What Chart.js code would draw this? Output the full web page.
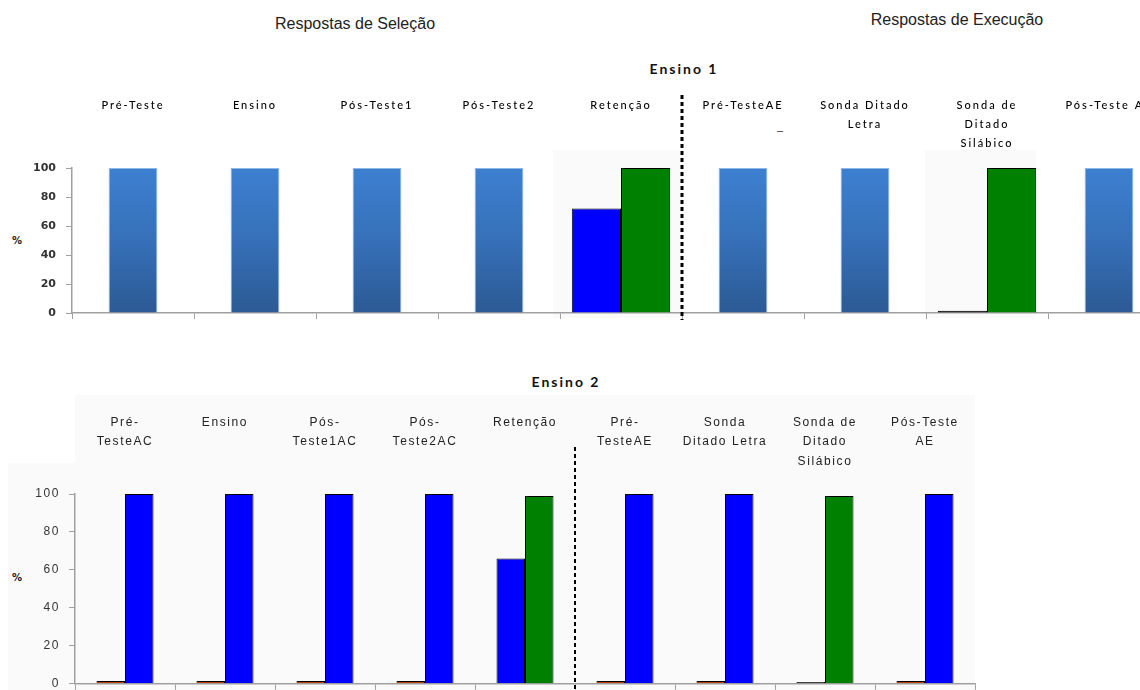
<!DOCTYPE html>
<html>
<head>
<meta charset="utf-8">
<script src="https://cdn.jsdelivr.net/npm/chart.js@4.4.1/dist/chart.umd.min.js"></script>
<style>
  html, body { margin: 0; padding: 0; background: #fff; width: 1140px; height: 690px; overflow: hidden; position: relative; }
  .txt { position: absolute; white-space: nowrap; color: #222; }
  .head { font: 16px "Liberation Sans", Arial, sans-serif; width: 260px; text-align: center; line-height: 18px; }
  .phase { font: bold 14px Lato, "Open Sans", sans-serif; letter-spacing: 2px; width: 200px; text-align: center; line-height: 16px; color: #111; }
  .pct { font: bold 10px "DejaVu Sans", sans-serif; color: #222; line-height: 12px; }
  .panel { position: absolute; background: #fafafa; }
  canvas { position: absolute; left: 0; }
</style>
</head>
<body>
<!-- soft backdrops behind some plot regions -->
<div class="panel" style="left:553px;top:150px;width:130px;height:168px;"></div>
<div class="panel" style="left:925px;top:150px;width:111px;height:168px;"></div>
<div class="panel" style="left:75px;top:395px;width:900px;height:70px;"></div>
<div class="panel" style="left:8px;top:463px;width:967px;height:227px;"></div>

<div class="txt head" style="left:225px;top:15px;">Respostas de Seleção</div>
<div class="txt head" style="left:827px;top:11px;">Respostas de Execução</div>
<div class="txt phase" style="left:584px;top:61px;">Ensino 1</div>
<div class="txt phase" style="left:466px;top:374px;">Ensino 2</div>
<div class="txt pct" style="left:12px;top:235px;">%</div>
<div class="txt pct" style="left:12px;top:572px;">%</div>
<div class="txt" style="left:777px;top:124px;font:11px 'Liberation Sans',sans-serif;color:#333;">–</div>

<canvas id="ensino1" width="1170" height="250" style="top:80px;"></canvas>
<canvas id="ensino2" width="1140" height="300" style="top:400px;"></canvas>

<script>
// ---- Ensino 1 ----
const stagesEnsino1 = ['Pré-Teste', 'Ensino', 'Pós-Teste1', 'Pós-Teste2', 'Retenção',
  'Pré-TesteAE', ['Sonda Ditado', 'Letra'], ['Sonda de', 'Ditado', 'Silábico'], 'Pós-Teste AE'];
const ensino1Single = [100, 100, 100, 100, null, 100, 100, null, 100];
const ensino1Black  = [null, null, null, null, null, null, null, 1.5, null];
const ensino1Blue   = [null, null, null, null, 72, null, null, null, null];
const ensino1Green  = [null, null, null, null, 100, null, null, 100, null];

// ---- Ensino 2 ----
const stagesEnsino2 = [['Pré-', 'TesteAC'], 'Ensino', ['Pós-', 'Teste1AC'], ['Pós-', 'Teste2AC'], 'Retenção',
  ['Pré-', 'TesteAE'], ['Sonda', 'Ditado Letra'], ['Sonda de', 'Ditado', 'Silábico'], ['Pós-Teste', 'AE']];
const ensino2Orange = [1.5, 1.5, 1.5, 1.5, null, 1.5, 1.5, null, 1.5];
const ensino2Black  = [null, null, null, null, null, null, null, 1, null];
const ensino2Blue   = [100, 100, 100, 100, 66, 100, 100, null, 100];
const ensino2Green  = [null, null, null, null, 99, null, null, 99, null];

const percentTicks = [0, 20, 40, 60, 80, 100];

const axisGray = '#a0a0a0';

function blueGradient(ctx) {
  const area = ctx.chart.chartArea;
  if (!area) return '#3670b8';
  const g = ctx.chart.ctx.createLinearGradient(0, area.top, 0, area.bottom);
  g.addColorStop(0, '#3d80d1');
  g.addColorStop(0.5, '#3670b8');
  g.addColorStop(1, '#2c5a94');
  return g;
}

// dashed divider between the selection and execution stages
function divider(id, top, bottom, width) {
  return {
    id,
    afterDatasetsDraw(chart) {
      const xs = chart.scales.x;
      const px = (xs.getPixelForValue(4) + xs.getPixelForValue(5)) / 2;
      const c = chart.ctx;
      c.save();
      c.strokeStyle = '#000';
      c.lineWidth = width;
      c.setLineDash([4, 3]);
      c.beginPath();
      c.moveTo(px, top);
      c.lineTo(px, bottom);
      c.stroke();
      c.restore();
    }
  };
}

function yAxis(width, font, pad) {
  return {
    min: 0, max: 100,
    afterBuildTicks(s) { s.ticks = percentTicks.map(v => ({ value: v })); },
    afterFit(s) { s.width = width; },
    grid: { drawOnChartArea: false, drawTicks: true, tickLength: 6, color: axisGray },
    border: { color: axisGray, width: 1.5 },
    ticks: { padding: pad, font, color: '#333' }
  };
}

function bottomAxis(height) {
  return {
    position: 'bottom', offset: true,
    afterFit(s) { s.height = height; },
    grid: { offset: true, drawOnChartArea: false, drawTicks: true, tickLength: 6, color: axisGray },
    border: { color: axisGray, width: 1.5 },
    ticks: { display: false }
  };
}

function labelAxis(height, font, pad, color) {
  return {
    type: 'category', position: 'top', offset: true,
    afterFit(s) { s.height = height; },
    grid: { display: false, drawTicks: false, tickLength: 0 },
    border: { display: false },
    ticks: { z: 1, padding: pad, crossAlign: 'far', autoSkip: false, maxRotation: 0, font, color }
  };
}

// Ensino 1
new Chart(document.getElementById('ensino1'), {
  type: 'bar',
  data: {
    labels: stagesEnsino1,
    datasets: [
      { data: ensino1Single, grouped: false, categoryPercentage: 0.8, barPercentage: 0.5,
        backgroundColor: blueGradient, borderColor: '#8fb6e6', borderWidth: 1 },
      { data: ensino1Black, skipNull: true, categoryPercentage: 0.807, barPercentage: 1,
        backgroundColor: '#000', borderColor: '#000', borderWidth: 1 },
      { data: ensino1Blue, skipNull: true, categoryPercentage: 0.807, barPercentage: 1,
        backgroundColor: '#0000ff', borderColor: '#000', borderWidth: 1 },
      { data: ensino1Green, skipNull: true, categoryPercentage: 0.807, barPercentage: 1,
        backgroundColor: '#008000', borderColor: '#000', borderWidth: 1 }
    ]
  },
  options: {
    responsive: false, animation: false, events: [],
    layout: { padding: 0 },
    plugins: { legend: { display: false }, tooltip: { enabled: false } },
    scales: {
      x: bottomAxis(17),
      x2: labelAxis(88, { family: 'Lato', size: 11, weight: 500, lineHeight: 19 / 11 }, 15.5, '#000'),
      y: yAxis(72, { family: 'DejaVu Sans', size: 11, weight: 'bold' }, 10)
    }
  },
  plugins: [
    divider('divider1', 15, 240, 3),
    { id: 'spacing1',
      afterDatasetsDraw(chart) { chart.ctx.letterSpacing = '2px'; },
      afterDraw(chart) { chart.ctx.letterSpacing = '0px'; } }
  ]
});

// Ensino 2
new Chart(document.getElementById('ensino2'), {
  type: 'bar',
  data: {
    labels: stagesEnsino2,
    datasets: [
      { data: ensino2Orange, backgroundColor: '#b8460b' },
      { data: ensino2Black, backgroundColor: '#000' },
      { data: ensino2Blue, backgroundColor: '#0000ff' },
      { data: ensino2Green, backgroundColor: '#008000' }
    ].map(d => Object.assign(d, { skipNull: true, categoryPercentage: 0.57, barPercentage: 1,
      borderColor: '#000', borderWidth: 1 }))
  },
  options: {
    responsive: false, animation: false, events: [],
    layout: { padding: { right: 165 } },
    plugins: { legend: { display: false }, tooltip: { enabled: false } },
    scales: {
      x: bottomAxis(15),
      x2: labelAxis(94, { family: 'Liberation Sans', size: 12, lineHeight: 19.5 / 12 }, 23, '#222'),
      y: yAxis(75, { family: 'Liberation Sans', size: 12 }, 9)
    }
  },
  plugins: [
    divider('divider2', 47, 300, 2),
    { id: 'spacing2',
      beforeDraw(chart) { chart.ctx.letterSpacing = '1.6px'; },
      afterDraw(chart) { chart.ctx.letterSpacing = '0px'; } }
  ]
});
</script>
</body>
</html>
